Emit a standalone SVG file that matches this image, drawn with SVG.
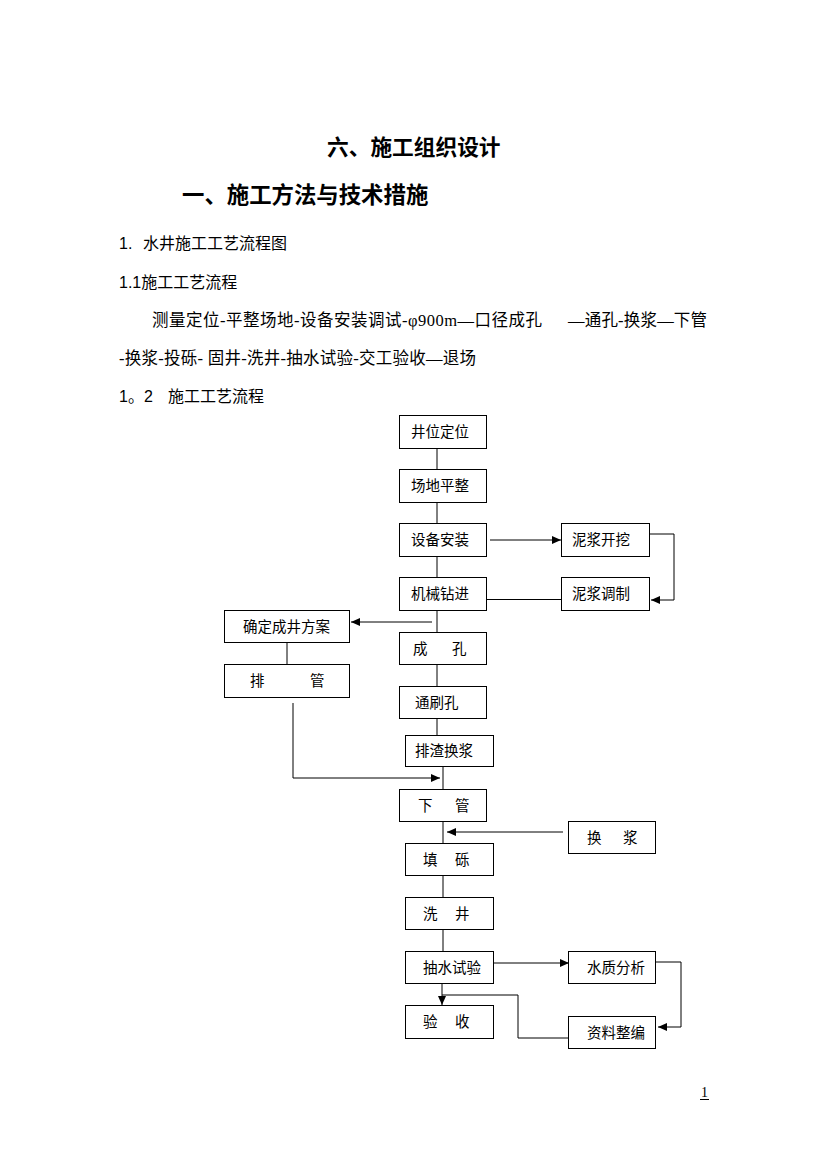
<svg xmlns="http://www.w3.org/2000/svg" width="826" height="1169" viewBox="0 0 826 1169">
<style>
.bg{fill:#fff}
.box{fill:#fff;stroke:#000;stroke-width:1}
.lbl{font-family:"Noto Sans CJK SC","Liberation Serif",serif;font-size:14.5px;fill:#000}
.hd{font-family:"Noto Sans CJK SC",sans-serif;font-weight:bold;fill:#000}
.sans{font-family:"Liberation Sans","Noto Sans CJK SC",sans-serif;font-size:16px;fill:#000}
.ser{font-family:"Liberation Serif","Noto Sans CJK SC",serif;font-size:16.5px;fill:#000}
.ln{fill:none;stroke:#000;stroke-width:1}
.ar{fill:none;stroke:#000;stroke-width:1;marker-end:url(#ah)}
</style>
<defs>
<marker id="ah" markerUnits="userSpaceOnUse" markerWidth="9" markerHeight="8" refX="9" refY="4" orient="auto">
<path d="M0,0 L9,4 L0,8 z" fill="#000"/>
</marker>
</defs>
<rect class="bg" x="0" y="0" width="826" height="1169"/>

<g id="headings">
<text class="hd" x="327" y="155" font-size="21.7">六、施工组织设计</text>
<text class="hd" x="182" y="203" font-size="22.4">一、施工方法与技术措施</text>
<text class="sans" x="119" y="249">1.</text>
<text class="sans" x="143" y="249">水井施工工艺流程图</text>
<text class="sans" x="119" y="288">1.1施工工艺流程</text>
<text class="ser" x="152" y="326" textLength="390" lengthAdjust="spacing">测量定位-平整场地-设备安装调试-φ900m—口径成孔</text>
<text class="ser" x="568" y="326" textLength="139" lengthAdjust="spacing">—通孔-换浆—下管</text>
<text class="ser" x="119" y="364" textLength="357" lengthAdjust="spacing">-换浆-投砾- 固井-洗井-抽水试验-交工验收—退场</text>
<text class="sans" x="119" y="402">1。2</text>
<text class="sans" x="168" y="402">施工工艺流程</text>
</g>

<g id="connectors">
<path class="ln" d="M437,448 V469 M437,502 V523 M437,556 V577 M437,610 V632 M437,664 V686 M437,718 V735"/>
<path class="ln" d="M443,767 V789 M443,821 V843 M443,875 V897 M443,930 V952"/>
<path class="ar" d="M490,540 H561"/>
<path class="ar" d="M649,534 H674 V600 H651"/>
<path class="ln" d="M561,599.5 H487"/>
<path class="ar" d="M432,622 H351"/>
<path class="ln" d="M287,643 V664"/>
<path class="ar" d="M293,703 V778 H440"/>
<path class="ar" d="M563,832 H447"/>
<path class="ar" d="M490,963 H569"/>
<path class="ar" d="M655,962 H681 V1027 H658"/>
<path class="ln" d="M568,1038 H518 V995 H442"/>
<path class="ar" d="M442,984 V1005"/>
</g>

<g id="n1"><rect class="box" x="399.5" y="415.5" width="87" height="33"/><text class="lbl" x="411" y="437">井位定位</text></g>
<g id="n2"><rect class="box" x="399.5" y="469.5" width="87" height="33"/><text class="lbl" x="411" y="491">场地平整</text></g>
<g id="n3"><rect class="box" x="399.5" y="523.5" width="87" height="33"/><text class="lbl" x="411" y="545">设备安装</text></g>
<g id="n4"><rect class="box" x="399.5" y="577.5" width="87" height="33"/><text class="lbl" x="411" y="599">机械钻进</text></g>
<g id="n5"><rect class="box" x="561.5" y="523.5" width="88" height="33"/><text class="lbl" x="572" y="545">泥浆开挖</text></g>
<g id="n6"><rect class="box" x="561.5" y="577.5" width="88" height="33"/><text class="lbl" x="572" y="599">泥浆调制</text></g>
<g id="n7"><rect class="box" x="224.5" y="610.5" width="125" height="32"/><text class="lbl" x="243" y="632">确定成井方案</text></g>
<g id="n8"><rect class="box" x="399.5" y="632.5" width="87" height="32"/><text class="lbl" x="413 452" y="654">成孔</text></g>
<g id="n9"><rect class="box" x="224.5" y="664.5" width="125" height="33"/><text class="lbl" x="250 310" y="686">排管</text></g>
<g id="n10"><rect class="box" x="399.5" y="686.5" width="87" height="32"/><text class="lbl" x="415" y="708">通刷孔</text></g>
<g id="n11"><rect class="box" x="405.5" y="735.5" width="88" height="31"/><text class="lbl" x="415" y="756">排渣换浆</text></g>
<g id="n12"><rect class="box" x="399.5" y="789.5" width="87" height="32"/><text class="lbl" x="418 455" y="811">下管</text></g>
<g id="n13"><rect class="box" x="568.5" y="821.5" width="87" height="32"/><text class="lbl" x="587 623" y="843">换浆</text></g>
<g id="n14"><rect class="box" x="405.5" y="843.5" width="88" height="32"/><text class="lbl" x="423 455" y="865">填砾</text></g>
<g id="n15"><rect class="box" x="405.5" y="897.5" width="88" height="32"/><text class="lbl" x="423 455" y="919">洗井</text></g>
<g id="n16"><rect class="box" x="405.5" y="951.5" width="88" height="32"/><text class="lbl" x="423" y="973">抽水试验</text></g>
<g id="n17"><rect class="box" x="568.5" y="951.5" width="87" height="32"/><text class="lbl" x="587" y="973">水质分析</text></g>
<g id="n18"><rect class="box" x="405.5" y="1005.5" width="88" height="33"/><text class="lbl" x="423 455" y="1027">验收</text></g>
<g id="n19"><rect class="box" x="568.5" y="1016.5" width="87" height="32"/><text class="lbl" x="587" y="1038">资料整编</text></g>

<g id="page">
<text x="701" y="1097" font-family="Liberation Serif, serif" font-size="14" fill="#000">1</text>
<line x1="700" y1="1099.5" x2="709" y2="1099.5" stroke="#000" stroke-width="1"/>
</g>
</svg>
